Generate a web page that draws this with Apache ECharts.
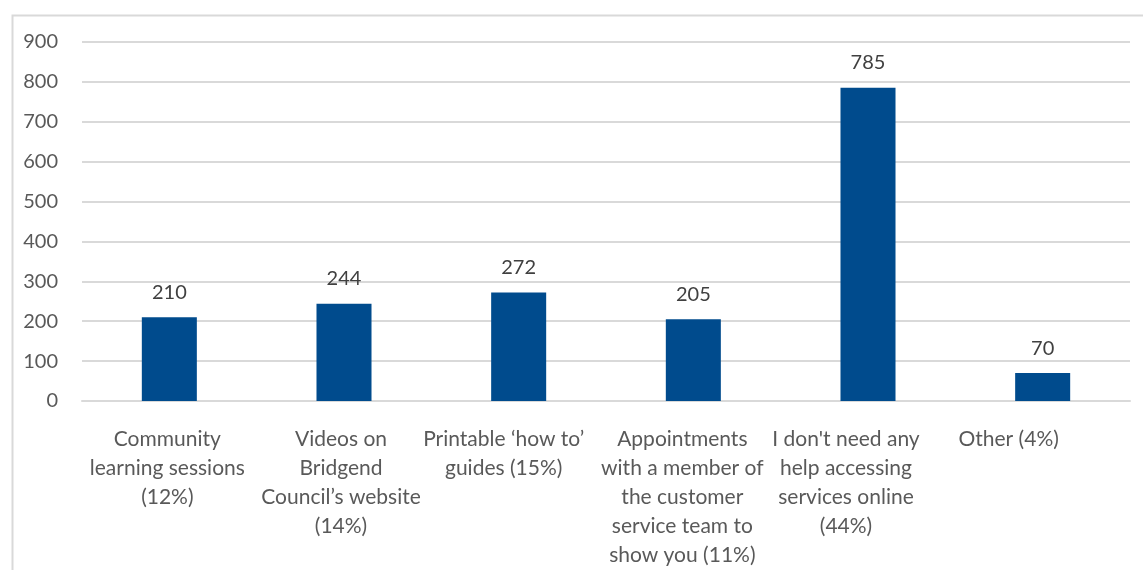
<!DOCTYPE html>
<html><head><meta charset="utf-8">
<script src="https://cdn.jsdelivr.net/npm/echarts@6/dist/echarts.min.js"></script>
<style>html,body{margin:0;padding:0;background:#fff;overflow:hidden;}#c{width:1143px;height:570px;}</style>
</head><body><div id="c"></div>
<script>
const categories = [
  "Community\nlearning sessions\n(12%)",
  "Videos on\nBridgend\nCouncil\u2019s website\n(14%)",
  "Printable \u2018how to\u2019\nguides (15%)",
  "Appointments\nwith a member of\nthe customer\nservice team to\nshow you (11%)",
  "I don't need any\nhelp accessing\nservices online\n(44%)",
  "Other (4%)"
];
const values = [210, 244, 272, 205, 785, 70];
const yTicks = [0, 100, 200, 300, 400, 500, 600, 700, 800, 900];

// layout: leftward shift (px) of each category label, as in the original
const labelShift = [2, 3, 15, 11, 22, 34];

const font = "Lato, 'Open Sans', sans-serif";
const chart = echarts.init(document.getElementById('c'));
chart.setOption({
  animation: false,
  graphic: [{type:'rect', left:10, top:13, shape:{x:0,y:0,width:1160,height:600}, style:{fill:'none', stroke:'#d9d9d9', lineWidth:2}, z:-1}],
  grid: {left: 82, right: 13, top: 42, bottom: 164},
  xAxis: {
    type: 'category',
    data: categories.map((c, i) => ({value: c, textStyle: {padding: [0, 2 * labelShift[i], 0, 0]}})),
    axisLine: {lineStyle: {color: '#d9d9d9', width: 2}},
    axisTick: {show: false},
    axisLabel: {color: '#595959', fontSize: 21, fontFamily: font, lineHeight: 29, margin: 24, interval: 0}
  },
  yAxis: {
    type: 'value', min: 0, max: 900, interval: 100,
    axisLine: {show: false}, axisTick: {show: false},
    splitLine: {lineStyle: {color: '#d9d9d9', width: 2}},
    axisLabel: {color: '#595959', fontSize: 20, fontFamily: font, margin: 24,
      formatter: v => yTicks.includes(v) ? String(v) : ''}
  },
  series: [{
    type: 'bar', data: values, barWidth: '31.5%',
    itemStyle: {color: '#004b8d'},
    label: {show: true, position: 'top', distance: 15, color: '#404040', fontSize: 20, fontFamily: font}
  }]
});
</script></body></html>
